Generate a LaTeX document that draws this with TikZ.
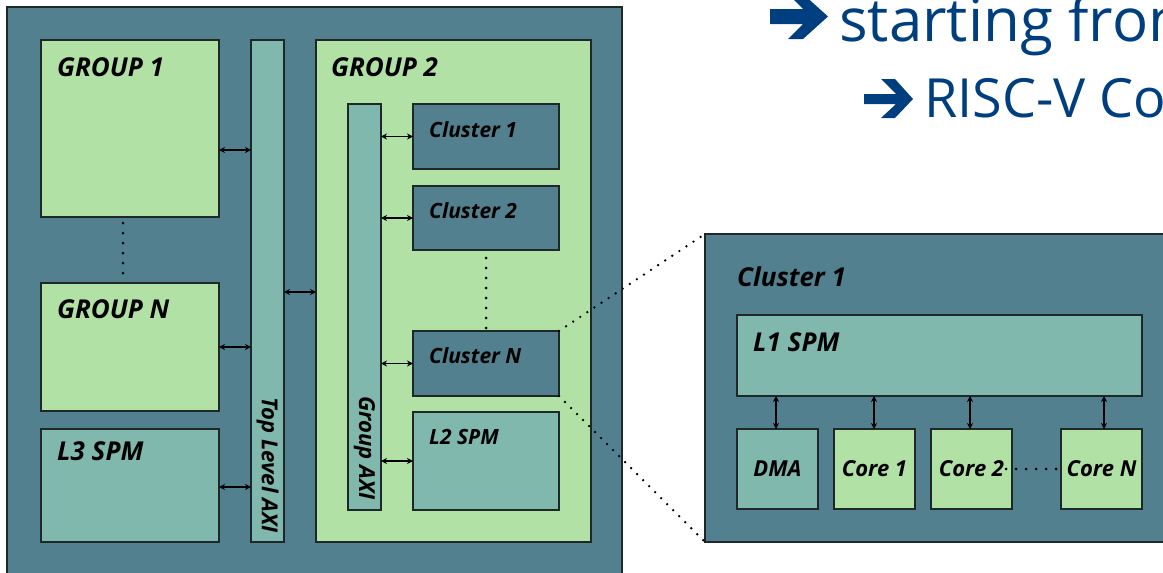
\documentclass[tikz,border=0pt]{standalone}
\usepackage{fontspec}
\setmainfont{Open Sans}
\usetikzlibrary{arrows.meta,calc}
\definecolor{dteal}{RGB}{82,128,143}
\definecolor{lgreen}{RGB}{178,225,165}
\definecolor{mteal}{RGB}{128,184,173}
\definecolor{edgecol}{RGB}{30,40,40}
\definecolor{titleblue}{RGB}{0,63,127}
\tikzset{
  box/.style={draw=edgecol, line width=1.2pt, inner sep=0pt, outer sep=0pt, anchor=north west},
  biglbl/.style={anchor=base west, inner sep=0pt, font=\fontsize{26}{30}\selectfont\bfseries\itshape},
  smalllbl/.style={anchor=base west, inner sep=0pt, font=\fontsize{21}{25}\selectfont\bfseries\itshape},
  barlbl/.style={rotate=-90, inner sep=0pt, font=\fontsize{22}{26}\selectfont\bfseries\itshape},
  corelbl/.style={font=\fontsize{22}{26}\selectfont\bfseries\itshape},
  biarrow/.style={{Stealth[length=6pt,width=6pt]}-{Stealth[length=6pt,width=6pt]}, line width=1.2pt},
  dotline/.style={line width=3pt, line cap=round, dash pattern=on 0pt off 10pt},
  zoomline/.style={line width=2.6pt, line cap=round, dash pattern=on 0pt off 8.5pt},
  title/.style={anchor=base west, inner sep=0pt, text=titleblue},
  bullet/.style={fill=titleblue},
}
\begin{document}
\begin{tikzpicture}[x=1pt,y=-1pt]
\useasboundingbox (0,0) rectangle (1163,573);
\clip (0,0) rectangle (1163,573);

% system on chip
\node[box, fill=dteal, minimum width=615pt, minimum height=590pt] (soc) at (7,7) {};
\node[box, fill=lgreen, minimum width=178pt, minimum height=177pt] (g1) at (41,40) {};
\node[box, fill=mteal, minimum width=33pt, minimum height=502pt] (tla) at (251,40) {};
\node[box, fill=lgreen, minimum width=275pt, minimum height=502pt] (g2) at (316,40) {};
\node[box, fill=lgreen, minimum width=178pt, minimum height=128pt] (gn) at (41,283) {};
\node[box, fill=mteal, minimum width=178pt, minimum height=113pt] (l3) at (41,429) {};

% inside group 2
\node[box, fill=mteal, minimum width=33pt, minimum height=406pt] (gaxi) at (348,104) {};
\node[box, fill=dteal, minimum width=146pt, minimum height=65pt] (c1) at (413,104) {};
\node[box, fill=dteal, minimum width=146pt, minimum height=64pt] (c2) at (413,186) {};
\node[box, fill=dteal, minimum width=146pt, minimum height=65pt] (cn) at (413,331) {};
\node[box, fill=mteal, minimum width=146pt, minimum height=98pt] (l2) at (413,412) {};

% labels
\node[biglbl] at (57,76) {GROUP 1};
\node[biglbl] at (331,76) {GROUP 2};
\node[biglbl] at (57,318) {GROUP N};
\node[biglbl] at (57,460) {L3 SPM};
\node[smalllbl] at (429,137) {Cluster 1};
\node[smalllbl] at (429,218) {Cluster 2};
\node[smalllbl] at (429,363) {Cluster N};
\node[smalllbl] at (429,444) {L2 SPM};
\node[barlbl] at ($(tla.south)+(0,-77)$) {Top Level AXI};
\node[barlbl] at ($(gaxi.south)+(0,-62)$) {Group AXI};

% interconnect links
\draw[biarrow] ([yshift=-21.5pt]g1.east) -- ([yshift=-21.5pt]g1.east -| tla.west);
\draw[biarrow] (gn.east) -- (gn.east -| tla.west);
\draw[biarrow] ([yshift=-1.5pt]l3.east) -- ([yshift=-1.5pt]l3.east -| tla.west);
\draw[biarrow] ([yshift=-1pt]g2.west -| tla.east) -- ([yshift=-1pt]g2.west);
\draw[biarrow] (c1.west -| gaxi.east) -- (c1.west);
\draw[biarrow] (c2.west -| gaxi.east) -- (c2.west);
\draw[biarrow] (cn.west -| gaxi.east) -- (cn.west);
\draw[biarrow] (l2.west -| gaxi.east) -- (l2.west);

\draw[dotline] ([xshift=-7pt,yshift=-6pt]g1.south) -- ([xshift=-7pt]g1.south |- gn.north);
\draw[dotline] ([yshift=-8pt]c2.south) -- (c2.south |- cn.north);

% cluster detail
\node[box, fill=dteal, minimum width=480pt, minimum height=308pt] (cl) at (705,234) {};
\node[box, fill=mteal, minimum width=405pt, minimum height=81pt] (l1) at (737,315) {};
\node[box, fill=mteal, minimum width=81pt, minimum height=80pt] (dma) at (737,429) {};
\node[box, fill=lgreen, minimum width=81pt, minimum height=80pt] (core1) at (834,429) {};
\node[box, fill=lgreen, minimum width=81pt, minimum height=80pt] (core2) at (931,429) {};
\node[box, fill=lgreen, minimum width=81pt, minimum height=80pt] (coren) at (1061,429) {};

\node[biglbl] at (737,286) {Cluster 1};
\node[biglbl] at (753,351) {L1 SPM};
\node[corelbl] at (dma.center) {DMA};
\node[corelbl] at (core1.center) {Core 1};
\node[corelbl] at (core2.center) {Core 2};
\node[corelbl] at (coren.center) {Core N};

\draw[biarrow] ([xshift=-1.5pt]dma.north) -- ([xshift=-1.5pt]dma.north |- l1.south);
\draw[biarrow] ([xshift=-0.5pt]core1.north) -- ([xshift=-0.5pt]core1.north |- l1.south);
\draw[biarrow] ([xshift=-1.5pt]core2.north) -- ([xshift=-1.5pt]core2.north |- l1.south);
\draw[biarrow] ([xshift=2.5pt]coren.north) -- ([xshift=2.5pt]coren.north |- l1.south);
\draw[dotline] ([xshift=-6pt]core2.east) -- (coren.west);

% zoom-in lines
\draw[zoomline] (cn.north east) -- (cl.north west);
\draw[zoomline] (cn.south east) -- (cl.south west);

% title bullets and lines
\fill[bullet] (770,9) -- (803,9) -- (788,-6) -- (803,-6) -- (828,16.5) -- (803,39)
  -- (788,39) -- (803,24) -- (770,24) -- cycle;
\fill[bullet] (864,94) -- (896,94) -- (881,79) -- (895,79) -- (913,99) -- (895,118)
  -- (881,118) -- (896,104) -- (864,104) -- cycle;
\node[title, font=\fontsize{60}{70}\selectfont] (t1) at (839,41) {starting from};
\node[title, font=\fontsize{54}{64}\selectfont] (t2) at (924,117) {RISC-V Co};
\end{tikzpicture}
\end{document}
